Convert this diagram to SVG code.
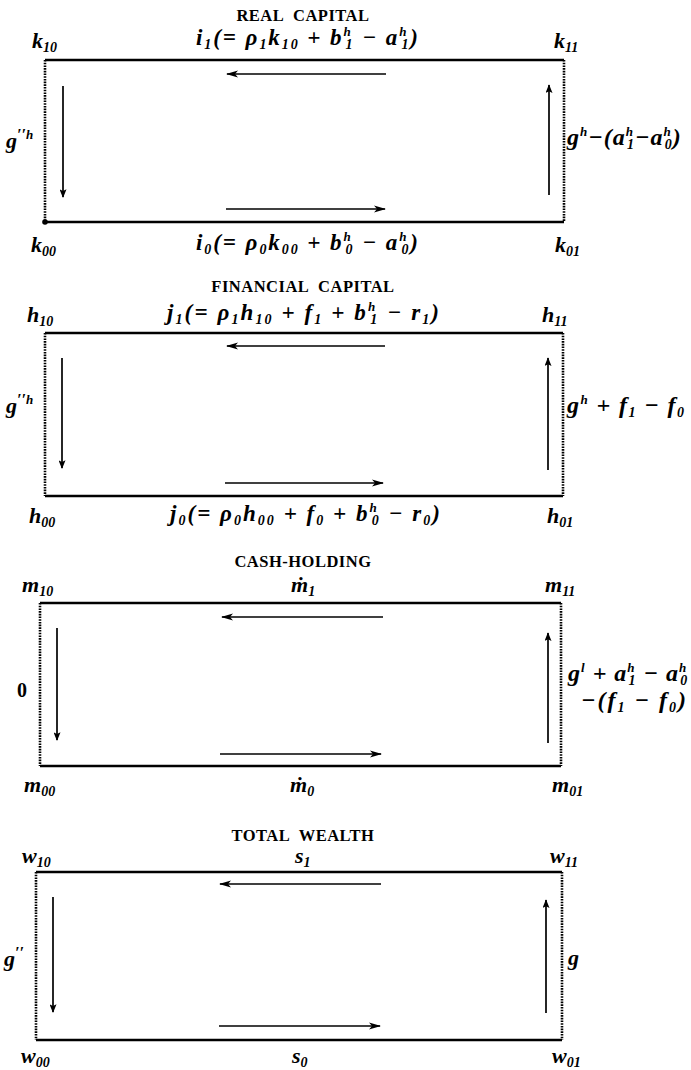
<svg xmlns="http://www.w3.org/2000/svg" width="691" height="1070" viewBox="0 0 691 1070">
<defs>
<marker id="ah" viewBox="0 0 12 8" refX="11" refY="4" markerWidth="12" markerHeight="8" markerUnits="userSpaceOnUse" orient="auto">
<path d="M0,0.5 L12,4 L0,7.5 L3,4 z" fill="#000"/>
</marker>
<marker id="av" viewBox="0 0 10 8" refX="9" refY="4" markerWidth="10" markerHeight="7" markerUnits="userSpaceOnUse" orient="auto">
<path d="M0,0 L10,4 L0,8 L2,4 z" fill="#000"/>
</marker>
</defs>
<style>
.bg{fill:#fff}
.h{stroke:#000;stroke-width:2.6;fill:none}
.d{stroke:#000;stroke-width:2.6;fill:none;stroke-dasharray:1.6 1.1}
.a{stroke:#000;stroke-width:1.7;fill:none;marker-end:url(#ah)}
.av{stroke:#000;stroke-width:1.7;fill:none;marker-end:url(#av)}
text{font-family:"Liberation Serif","Times New Roman",serif;fill:#000}
.t{font-size:16.5px;font-weight:bold;text-anchor:middle;word-spacing:5px;letter-spacing:0.5px}
.v{font-size:22px;font-style:italic;font-weight:bold}
.f{font-size:23px;font-style:italic;font-weight:bold;text-anchor:middle}
.r{font-size:24px;font-style:italic;font-weight:bold;letter-spacing:1px}
.sb{font-size:14px}
.sp{font-size:13px}
.pr{font-size:16px}
.n{font-size:20px;font-weight:bold}
</style>
<rect class="bg" x="0" y="0" width="691" height="1070"/>

<g id="real-capital">
<text class="t" x="303" y="21">REAL CAPITAL</text>
<line class="h" x1="45" y1="60" x2="564" y2="60"/>
<line class="h" x1="45" y1="222" x2="564" y2="222"/>
<line class="d" x1="45" y1="60" x2="45" y2="222"/>
<line class="d" x1="564" y1="60" x2="564" y2="222"/>
<circle cx="45" cy="222" r="2.8" fill="#000"/>
<text class="v" x="32" y="48">k<tspan class="sb" dy="4">10</tspan></text>
<text class="v" x="554" y="48">k<tspan class="sb" dy="4">11</tspan></text>
<text class="f" x="307" y="45" textLength="222" lengthAdjust="spacing">i<tspan class="sb" dy="4">1</tspan><tspan dy="-4">(= ρ</tspan><tspan class="sb" dy="4">1</tspan><tspan dy="-4">k</tspan><tspan class="sb" dy="4">10</tspan><tspan dy="-4"> + b</tspan><tspan class="sp" dy="-9">h</tspan><tspan class="sb" dx="-7" dy="13">1</tspan><tspan dy="-4"> − a</tspan><tspan class="sp" dy="-9">h</tspan><tspan class="sb" dx="-7" dy="13">1</tspan><tspan dy="-4">)</tspan></text>
<text class="v" x="6" y="148">g<tspan class="pr" dy="-8">′′</tspan><tspan class="sp" dy="-1">h</tspan></text>
<text class="r" x="567" y="145">g<tspan class="sp" dy="-9">h</tspan><tspan dy="9">−(a</tspan><tspan class="sp" dy="-9">h</tspan><tspan class="sb" dx="-7" dy="13">1</tspan><tspan dy="-4">−a</tspan><tspan class="sp" dy="-9">h</tspan><tspan class="sb" dx="-7" dy="13">0</tspan><tspan dy="-4">)</tspan></text>
<text class="v" x="31" y="252">k<tspan class="sb" dy="4">00</tspan></text>
<text class="v" x="555" y="252">k<tspan class="sb" dy="4">01</tspan></text>
<text class="f" x="307" y="250" textLength="222" lengthAdjust="spacing">i<tspan class="sb" dy="4">0</tspan><tspan dy="-4">(= ρ</tspan><tspan class="sb" dy="4">0</tspan><tspan dy="-4">k</tspan><tspan class="sb" dy="4">00</tspan><tspan dy="-4"> + b</tspan><tspan class="sp" dy="-9">h</tspan><tspan class="sb" dx="-7" dy="13">0</tspan><tspan dy="-4"> − a</tspan><tspan class="sp" dy="-9">h</tspan><tspan class="sb" dx="-7" dy="13">0</tspan><tspan dy="-4">)</tspan></text>
</g>

<g id="financial-capital">
<text class="t" x="303" y="292">FINANCIAL CAPITAL</text>
<line class="h" x1="45" y1="333" x2="563" y2="333"/>
<line class="h" x1="45" y1="496" x2="563" y2="496"/>
<line class="d" x1="45" y1="333" x2="45" y2="496"/>
<line class="d" x1="563" y1="333" x2="563" y2="496"/>
<text class="v" x="27" y="322">h<tspan class="sb" dy="4">10</tspan></text>
<text class="v" x="542" y="322">h<tspan class="sb" dy="4">11</tspan></text>
<text class="f" x="303" y="320" textLength="272" lengthAdjust="spacing">j<tspan class="sb" dy="4">1</tspan><tspan dy="-4">(= ρ</tspan><tspan class="sb" dy="4">1</tspan><tspan dy="-4">h</tspan><tspan class="sb" dy="4">10</tspan><tspan dy="-4"> + f</tspan><tspan class="sb" dy="4">1</tspan><tspan dy="-4"> + b</tspan><tspan class="sp" dy="-9">h</tspan><tspan class="sb" dx="-7" dy="13">1</tspan><tspan dy="-4"> − r</tspan><tspan class="sb" dy="4">1</tspan><tspan dy="-4">)</tspan></text>
<text class="v" x="6" y="413">g<tspan class="pr" dy="-8">′′</tspan><tspan class="sp" dy="-1">h</tspan></text>
<text class="r" x="567" y="413" textLength="118" lengthAdjust="spacing">g<tspan class="sp" dy="-9">h</tspan><tspan dy="9"> + f</tspan><tspan class="sb" dy="4">1</tspan><tspan dy="-4"> − f</tspan><tspan class="sb" dy="4">0</tspan></text>
<text class="v" x="29" y="523">h<tspan class="sb" dy="4">00</tspan></text>
<text class="v" x="547" y="523">h<tspan class="sb" dy="4">01</tspan></text>
<text class="f" x="305" y="521" textLength="270" lengthAdjust="spacing">j<tspan class="sb" dy="4">0</tspan><tspan dy="-4">(= ρ</tspan><tspan class="sb" dy="4">0</tspan><tspan dy="-4">h</tspan><tspan class="sb" dy="4">00</tspan><tspan dy="-4"> + f</tspan><tspan class="sb" dy="4">0</tspan><tspan dy="-4"> + b</tspan><tspan class="sp" dy="-9">h</tspan><tspan class="sb" dx="-7" dy="13">0</tspan><tspan dy="-4"> − r</tspan><tspan class="sb" dy="4">0</tspan><tspan dy="-4">)</tspan></text>
</g>

<g id="cash-holding">
<text class="t" x="303" y="567">CASH-HOLDING</text>
<line class="h" x1="40" y1="603" x2="561" y2="603"/>
<line class="h" x1="40" y1="766" x2="561" y2="766"/>
<line class="d" x1="40" y1="603" x2="40" y2="766"/>
<line class="d" x1="561" y1="603" x2="561" y2="766"/>
<text class="v" x="22" y="592">m<tspan class="sb" dy="4">10</tspan></text>
<text class="v" x="291" y="592">ṁ<tspan class="sb" dy="4">1</tspan></text>
<text class="v" x="545" y="592">m<tspan class="sb" dy="4">11</tspan></text>
<text class="n" x="17" y="697">0</text>
<text class="r" x="568" y="681">g<tspan class="sp" dy="-9">l</tspan><tspan dy="9"> + a</tspan><tspan class="sp" dy="-9">h</tspan><tspan class="sb" dx="-7" dy="13">1</tspan><tspan dy="-4"> − a</tspan><tspan class="sp" dy="-9">h</tspan><tspan class="sb" dx="-7" dy="13">0</tspan></text>
<text class="r" x="581" y="708" textLength="106" lengthAdjust="spacing">−(f<tspan class="sb" dy="4">1</tspan><tspan dy="-4"> − f</tspan><tspan class="sb" dy="4">0</tspan><tspan dy="-4">)</tspan></text>
<text class="v" x="24" y="792">m<tspan class="sb" dy="4">00</tspan></text>
<text class="v" x="290" y="792">ṁ<tspan class="sb" dy="4">0</tspan></text>
<text class="v" x="552" y="792">m<tspan class="sb" dy="4">01</tspan></text>
</g>

<g id="total-wealth">
<text class="t" x="303" y="841">TOTAL WEALTH</text>
<line class="h" x1="36" y1="872" x2="562" y2="872"/>
<line class="h" x1="36" y1="1040" x2="562" y2="1040"/>
<line class="d" x1="36" y1="872" x2="36" y2="1040"/>
<line class="d" x1="562" y1="872" x2="562" y2="1040"/>
<text class="v" x="22" y="863">w<tspan class="sb" dy="4">10</tspan></text>
<text class="v" x="295" y="863">s<tspan class="sb" dy="4">1</tspan></text>
<text class="v" x="550" y="863">w<tspan class="sb" dy="4">11</tspan></text>
<text class="v" x="4" y="966">g<tspan class="pr" dy="-8">′′</tspan></text>
<text class="v" x="568" y="965">g</text>
<text class="v" x="21" y="1063">w<tspan class="sb" dy="4">00</tspan></text>
<text class="v" x="292" y="1063">s<tspan class="sb" dy="4">0</tspan></text>
<text class="v" x="552" y="1063">w<tspan class="sb" dy="4">01</tspan></text>
</g>

<g id="connectors">
<line class="a" x1="386" y1="74" x2="227" y2="74"/>
<line class="a" x1="226" y1="209" x2="385" y2="209"/>
<line class="av" x1="63" y1="86" x2="63" y2="197"/>
<line class="av" x1="549" y1="195" x2="549" y2="85"/>

<line class="a" x1="385" y1="346" x2="227" y2="346"/>
<line class="a" x1="225" y1="483" x2="383" y2="483"/>
<line class="av" x1="62" y1="358" x2="62" y2="468"/>
<line class="av" x1="548" y1="470" x2="548" y2="358"/>

<line class="a" x1="383" y1="617" x2="222" y2="617"/>
<line class="a" x1="220" y1="754" x2="381" y2="754"/>
<line class="av" x1="57" y1="628" x2="57" y2="740"/>
<line class="av" x1="548" y1="743" x2="548" y2="633"/>

<line class="a" x1="381" y1="884" x2="220" y2="884"/>
<line class="a" x1="219" y1="1026" x2="380" y2="1026"/>
<line class="av" x1="53" y1="897" x2="53" y2="1012"/>
<line class="av" x1="546" y1="1013" x2="546" y2="900"/>
</g>
</svg>
